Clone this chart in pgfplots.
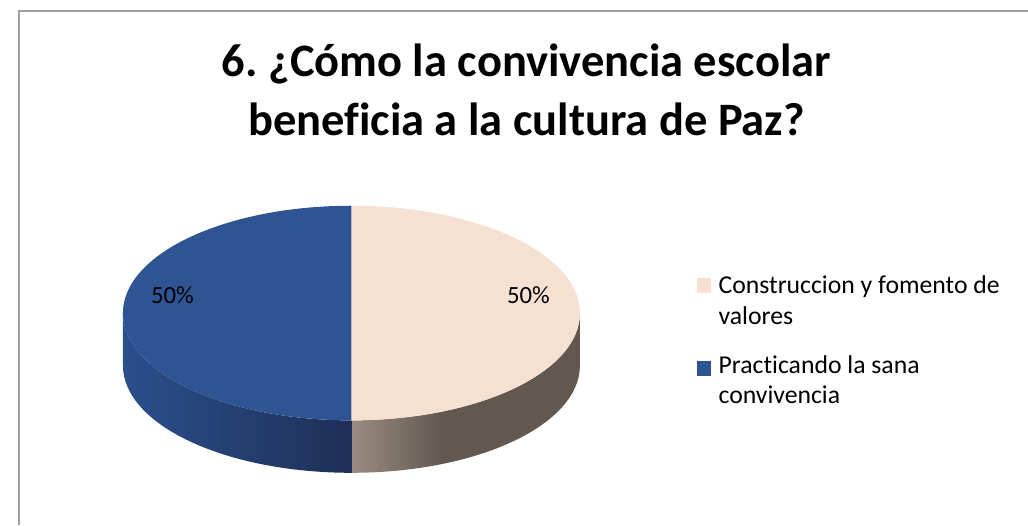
\documentclass[border=0pt]{standalone}
\usepackage{pgfplots}
\pgfplotsset{compat=1.18}
\usepackage{pgfplotstable}
\usepackage{fontspec}
\setmainfont{Carlito}[Ligatures=NoCommon]

\definecolor{beigetop}{HTML}{F6E0D2}
\definecolor{bluetop}{HTML}{2E5494}
\definecolor{blueside1}{HTML}{2B4F8B}
\definecolor{blueside2}{HTML}{1E2F57}
\definecolor{beigeside1}{HTML}{998C80}
\definecolor{beigeside2}{HTML}{625850}
\definecolor{framegray}{HTML}{A0A0A0}

% side shadings (inner 25bp..75bp maps onto the path box)
\pgfdeclarehorizontalshading{blueside}{100bp}{color(0bp)=(blueside1); color(25bp)=(blueside1); color(75bp)=(blueside2); color(100bp)=(blueside2)}
\pgfdeclarehorizontalshading{beigeside}{100bp}{color(0bp)=(beigeside1); color(25bp)=(beigeside1); color(45bp)=(beigeside2); color(100bp)=(beigeside2)}

\pgfplotstableread{
label value
Construccion 50
Practicando 50
}\piedata

\begin{document}
\frenchspacing
\pgfplotstablegetelem{0}{value}\of\piedata \let\va\pgfplotsretval
\pgfplotstablegetelem{1}{value}\of\piedata \let\vb\pgfplotsretval
\pgfmathsetmacro\fa{\va/(\va+\vb)}
\pgfmathsetmacro\aone{90-360*\fa}
\pgfmathsetmacro\pa{100*\fa}
\pgfmathsetmacro\pb{100-\pa}
% pie geometry, 1 axis unit = 1pt
\def\cx{344}\def\cy{214.5}\def\rx{231}\def\ry{108.5}\def\dep{53}
\begin{tikzpicture}
\begin{axis}[
  width=1028pt, height=531pt, scale only axis,
  xmin=0, xmax=1028, ymin=0, ymax=531,
  hide axis,
]
% frame
\draw[framegray, line width=2pt] (axis cs:8,0) -- (axis cs:8,520) -- (axis cs:1028,520);

% sides (front half only)
\shade[shading=beigeside]
  (axis cs:{\cx+\rx*cos(\aone)},{\cy+\ry*sin(\aone)})
  arc[start angle=\aone, end angle=0, x radius=\rx pt, y radius=\ry pt]
  -- ++(0,-\dep pt)
  arc[start angle=0, end angle=\aone, x radius=\rx pt, y radius=\ry pt] -- cycle;
\shade[shading=blueside]
  (axis cs:{\cx-\rx},\cy)
  arc[start angle=-180, end angle=\aone, x radius=\rx pt, y radius=\ry pt]
  -- ++(0,-\dep pt)
  arc[start angle=\aone, end angle=-180, x radius=\rx pt, y radius=\ry pt] -- cycle;

% top faces
\fill[beigetop] (axis cs:\cx,\cy) -- (axis cs:\cx,{\cy+\ry})
  arc[start angle=90, end angle=\aone, x radius=\rx pt, y radius=\ry pt] -- cycle;
\fill[bluetop] (axis cs:\cx,\cy) -- (axis cs:{\cx+\rx*cos(\aone)},{\cy+\ry*sin(\aone)})
  arc[start angle=\aone, end angle=-270, x radius=\rx pt, y radius=\ry pt] -- cycle;

% data labels
\node[font=\fontsize{25}{30}\selectfont] at (axis cs:523,233) {\pgfmathprintnumber[fixed,precision=0,assume math mode=true]{\pa}\%};
\node[font=\fontsize{25}{30}\selectfont] at (axis cs:163,233) {\pgfmathprintnumber[fixed,precision=0,assume math mode=true]{\pb}\%};

% title
\node[anchor=base, font=\fontsize{47}{60}\selectfont\bfseries] at (axis cs:521,454) {6. ¿Cómo la convivencia escolar};
\node[anchor=base, font=\fontsize{47}{60}\selectfont\bfseries] at (axis cs:521,394) {beneficia a la cultura de Paz?};

% legend
\fill[beigetop] (axis cs:693,235) rectangle (axis cs:708,250);
\fill[bluetop] (axis cs:693,151) rectangle (axis cs:708,166);
\begin{scope}[every node/.style={anchor=base west, inner sep=0pt, font=\fontsize{26}{31}\selectfont}]
\node at (axis cs:715,234) {Construccion y fomento de};
\node at (axis cs:715,203) {valores};
\node at (axis cs:715,153) {Practicando la sana};
\node at (axis cs:715,123) {convivencia};
\end{scope}
\end{axis}
\pgfresetboundingbox
\useasboundingbox (0,0) rectangle (1028pt,531pt);
\end{tikzpicture}
\end{document}
